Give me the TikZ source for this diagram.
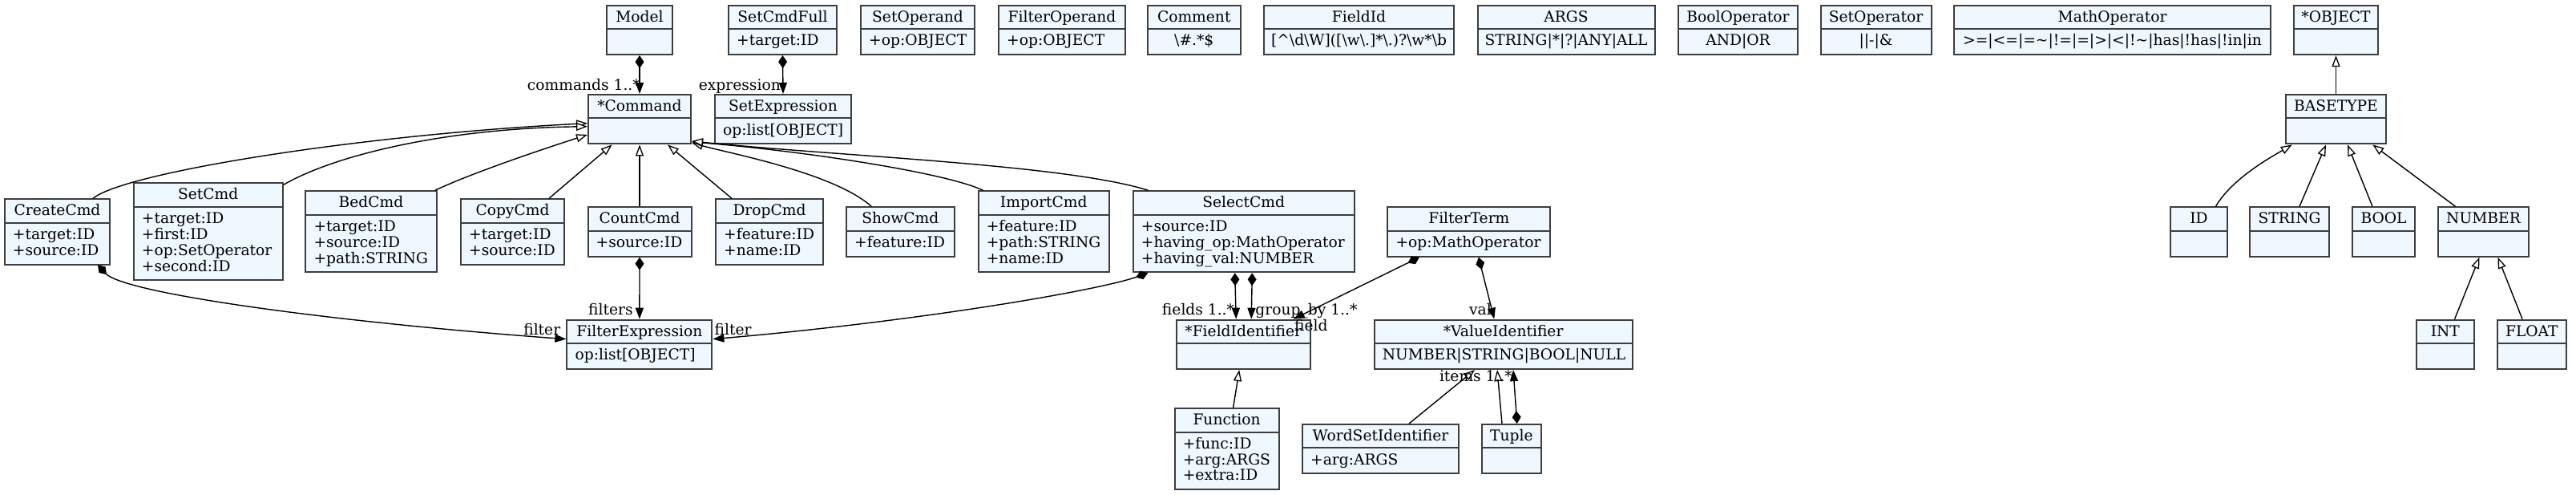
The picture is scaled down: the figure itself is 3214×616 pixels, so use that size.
\documentclass[tikz,border=0pt]{standalone}
\usepackage{fontspec}
\newfontfamily\umlfont{DejaVu Serif}
\usetikzlibrary{arrows.meta}
\definecolor{boxfill}{RGB}{239,247,255}
\definecolor{boxline}{RGB}{62,62,62}
\tikzset{
  clsbox/.style={draw=boxline, fill=boxfill, line width=2pt, inner sep=0pt, rectangle},
  clsline/.style={draw=boxline, line width=2pt},
  clstext/.style={inner sep=0pt, font=\umlfont\fontsize{18.67}{19.8}\selectfont},
  lbl/.style={inner sep=0pt, font=\umlfont\fontsize{18.67}{19.8}\selectfont},
  inh/.style={draw, line width=1.4pt, -{Triangle[fill=white, length=14pt, width=10pt, line width=1.3pt]}},
  comp/.style={draw, line width=1.4pt, {Diamond[length=16pt, width=11pt]}-{Triangle[length=14pt, width=10pt]}}
}
% name, x, y, width, height, header, body
\newcommand{\umlcls}[7]{%
  \node[clsbox, minimum width=#4pt, minimum height=#5pt, anchor=north west] (#1) at (#2,#3) {};
  \draw[clsline] ([yshift=-30.4pt]#1.north west) -- ([yshift=-30.4pt]#1.north east);
  \node[clstext, anchor=base] (#1-h) at ([yshift=-21.3pt]#1.north) {#6};
  \node[clstext, anchor=base west] (#1-b) at ([xshift=11pt,yshift=-51pt]#1.north west) {\begin{tabular}[t]{@{}l@{}}#7\end{tabular}};
}
\newcommand{\umlenum}[7]{%
  \node[clsbox, minimum width=#4pt, minimum height=#5pt, anchor=north west] (#1) at (#2,#3) {};
  \draw[clsline] ([yshift=-30.4pt]#1.north west) -- ([yshift=-30.4pt]#1.north east);
  \node[clstext, anchor=base] (#1-h) at ([yshift=-21.3pt]#1.north) {#6};
  \node[clstext, anchor=base] (#1-b) at ([yshift=-51pt]#1.north) {#7};
}
\begin{document}
\begin{tikzpicture}[x=1pt, y=-1pt]
\useasboundingbox (0,0) rectangle (3214,616);
% top row
\umlcls{Model}{756}{5.7}{82}{61.4}{Model}{}
\umlcls{SetCmdFull}{908}{5.7}{135}{61.4}{SetCmdFull}{+target:ID}
\umlcls{SetOperand}{1073}{5.7}{142}{61.4}{SetOperand}{+op:OBJECT}
\umlcls{FilterOperand}{1245}{5.7}{158}{61.4}{FilterOperand}{+op:OBJECT}
\umlenum{Comment}{1431}{5.7}{115.5}{61.4}{Comment}{\textbackslash\#.*\$}
\umlenum{FieldId}{1576}{5.7}{237}{61.4}{FieldId}{[\textasciicircum\textbackslash d\textbackslash W]([\textbackslash w\textbackslash .]*\textbackslash .)?\textbackslash w*\textbackslash b}
\umlenum{ARGS}{1842.5}{5.7}{221}{61.4}{ARGS}{STRING|*|?|ANY|ALL}
\umlenum{BoolOperator}{2093}{5.7}{149}{61.4}{BoolOperator}{AND|OR}
\umlenum{SetOperator}{2270.5}{5.7}{138}{61.4}{SetOperator}{||-|\&}
\umlenum{MathOperator}{2437}{5.7}{395}{61.4}{MathOperator}{>=|<=|=\textasciitilde|!=|=|>|<|!\textasciitilde|has|!has|!in|in}
\umlcls{OBJECT}{2861}{5.7}{105}{61.4}{*OBJECT}{}
% second row
\umlcls{Command}{733}{117}{128}{61.4}{*Command}{}
\umlcls{SetExpression}{891}{117}{170}{61.4}{SetExpression}{op:list[OBJECT]}
\umlcls{BASETYPE}{2851}{117}{125}{61.4}{BASETYPE}{}
% third row
\umlcls{CreateCmd}{4.7}{247.3}{131.6}{81.2}{CreateCmd}{+target:ID\\+source:ID}
\umlcls{SetCmd}{165.7}{227.3}{186}{120.8}{SetCmd}{+target:ID\\+first:ID\\+op:SetOperator\\+second:ID}
\umlcls{BedCmd}{380.3}{237.3}{163.4}{101}{BedCmd}{+target:ID\\+source:ID\\+path:STRING}
\umlcls{CopyCmd}{574}{247.3}{129}{81.2}{CopyCmd}{+target:ID\\+source:ID}
\umlcls{CountCmd}{732.5}{257.3}{129}{61.4}{CountCmd}{+source:ID}
\umlcls{DropCmd}{892}{247.3}{134}{81.2}{DropCmd}{+feature:ID\\+name:ID}
\umlcls{ShowCmd}{1055}{257.3}{134.5}{61.4}{ShowCmd}{+feature:ID}
\umlcls{ImportCmd}{1219.6}{237.3}{163.4}{101}{ImportCmd}{+feature:ID\\+path:STRING\\+name:ID}
\umlcls{SelectCmd}{1412.7}{237.3}{276}{101}{SelectCmd}{+source:ID\\+having\_op:MathOperator\\+having\_val:NUMBER}
\umlcls{FilterTerm}{1730.3}{257.3}{203}{61.4}{FilterTerm}{+op:MathOperator}
\umlcls{ID}{2707}{257.3}{71}{61.4}{ID}{}
\umlcls{STRING}{2806}{257.3}{99}{61.4}{STRING}{}
\umlcls{BOOL}{2934}{257.3}{78}{61.4}{BOOL}{}
\umlcls{NUMBER}{3041}{257.3}{113}{61.4}{NUMBER}{}
% fourth row
\umlcls{FilterExpression}{706.4}{397.7}{181}{61.4}{FilterExpression}{op:list[OBJECT]}
\umlcls{FieldIdentifier}{1466.7}{397.7}{167}{61.4}{*FieldIdentifier}{}
\umlcls{ValueIdentifier}{1713.6}{397.7}{322}{61.4}{*ValueIdentifier}{NUMBER|STRING|BOOL|NULL}
\umlcls{INT}{3014}{397.7}{71.6}{61.4}{INT}{}
\umlcls{FLOAT}{3115}{397.7}{85.6}{61.4}{FLOAT}{}
% fifth row
\umlcls{Function}{1464.6}{508.3}{130}{101}{Function}{+func:ID\\+arg:ARGS\\+extra:ID}
\umlcls{WordSetIdentifier}{1624}{528}{195}{61.4}{WordSetIdentifier}{+arg:ARGS}
\umlcls{Tuple}{1847.6}{528}{74.4}{61.4}{Tuple}{}

% inheritance to Command
\draw[inh] ([xshift=44.6pt]CreateCmd.north) .. controls (155,215) and (450,168) .. ([yshift=-5pt]Command.west);
\draw[inh] ([yshift=-3pt]SetCmd.north east) .. controls (420,192) and (560,160) .. ([yshift=-9pt]Command.west);
\draw[inh] ([xshift=-3pt]BedCmd.north east) .. controls (590,215) and (680,185) .. ([yshift=12.5pt]Command.south west);
\draw[inh] ([xshift=45.5pt]CopyCmd.north) -- ([xshift=-34.4pt]Command.south);
\draw[inh] (CountCmd.north) -- (Command.south);
\draw[inh] ([xshift=-47pt]DropCmd.north) -- ([xshift=35pt]Command.south);
\draw[inh] ([xshift=-36pt]ShowCmd.north) .. controls (1040,215) and (905,190) .. ([yshift=2.5pt]Command.south east);
\draw[inh] ([xshift=7pt]ImportCmd.north west) .. controls (1180,215) and (1000,188) .. ([yshift=3.5pt]Command.south east);
\draw[inh] ([xshift=20pt]SelectCmd.north west) .. controls (1330,205) and (1050,195) .. ([yshift=4.5pt]Command.south east);

% compositions
\draw[comp] (Model.south) -- (Command.north);
\node[lbl, anchor=base east] (l-commands) at ([xshift=1pt,yshift=5pt]Command.north) {commands 1..*};
\draw[comp] (SetCmdFull.south) -- (SetExpression.north);
\node[lbl, anchor=base east] (l-expression) at ([xshift=-3pt,yshift=5pt]SetExpression.north) {expression};

\draw[comp] ([xshift=50.5pt]CreateCmd.south) .. controls (155,365) and (400,400) .. ([yshift=6.7pt]FilterExpression.west);
\node[lbl, anchor=base east] (l-filter1) at ([xshift=-7pt,yshift=11.7pt]FilterExpression.west) {filter};
\draw[comp] (CountCmd.south) -- (FilterExpression.north);
\node[lbl, anchor=base east] (l-filters) at ([xshift=-8pt,yshift=5.4pt]FilterExpression.north) {filters};
\draw[comp] ([xshift=19.5pt]SelectCmd.south west) .. controls (1370,362) and (1150,400) .. ([yshift=6.7pt]FilterExpression.east);
\node[lbl, anchor=base west] (l-filter2) at ([xshift=2pt,yshift=11.7pt]FilterExpression.east) {filter};

\draw[comp] ([xshift=-11pt]SelectCmd.south) -- ([xshift=-9pt]FieldIdentifier.north);
\node[lbl, anchor=base east] (l-fields) at ([xshift=-11pt,yshift=5pt]FieldIdentifier.north) {fields 1..*};
\draw[comp] ([xshift=10.6pt]SelectCmd.south) -- ([xshift=10pt]FieldIdentifier.north);
\node[lbl, anchor=base west] (l-groupby) at ([xshift=15pt,yshift=5pt]FieldIdentifier.north) {group\_by 1..*};

\draw[comp] ([xshift=-62pt]FilterTerm.south) -- ([xshift=-22pt]FieldIdentifier.north east);
\node[lbl, anchor=base west] (l-field) at ([xshift=-20.7pt,yshift=-15pt]FieldIdentifier.north east) {field};
\draw[comp] ([xshift=12pt]FilterTerm.south) -- ([xshift=-11.3pt]ValueIdentifier.north);
\node[lbl, anchor=base east] (l-val) at ([xshift=-14.6pt,yshift=5pt]ValueIdentifier.north) {val};

\draw[inh] ([xshift=35.5pt]WordSetIdentifier.north) -- ([xshift=-35.6pt]ValueIdentifier.south);
\draw[inh] ([xshift=-11.8pt]Tuple.north) -- ([xshift=-7.6pt]ValueIdentifier.south);
\draw[comp] ([xshift=7pt]Tuple.north) -- ([xshift=12.4pt]ValueIdentifier.south);
\node[lbl, anchor=base east] (l-items) at ([xshift=11.4pt,yshift=-14.7pt]ValueIdentifier.south) {items 1..*};

\draw[inh] ([xshift=8pt]Function.north) -- ([xshift=-5pt]FieldIdentifier.south);

% types
\draw[inh] (BASETYPE.north) -- (OBJECT.south);
\draw[inh] ([xshift=21pt]ID.north) .. controls (2785,222) and (2835,195) .. ([xshift=8.7pt]BASETYPE.south west);
\draw[inh] ([xshift=12.5pt]STRING.north) -- ([xshift=-12.5pt]BASETYPE.south);
\draw[inh] ([xshift=-14pt]BOOL.north) -- ([xshift=14.5pt]BASETYPE.south);
\draw[inh] ([xshift=-35pt]NUMBER.north) -- ([xshift=45.8pt]BASETYPE.south);
\draw[inh] ([xshift=11.8pt]INT.north) -- ([xshift=-5pt]NUMBER.south);
\draw[inh] ([xshift=-11.8pt]FLOAT.north) -- ([xshift=18pt]NUMBER.south);
\end{tikzpicture}
\end{document}
